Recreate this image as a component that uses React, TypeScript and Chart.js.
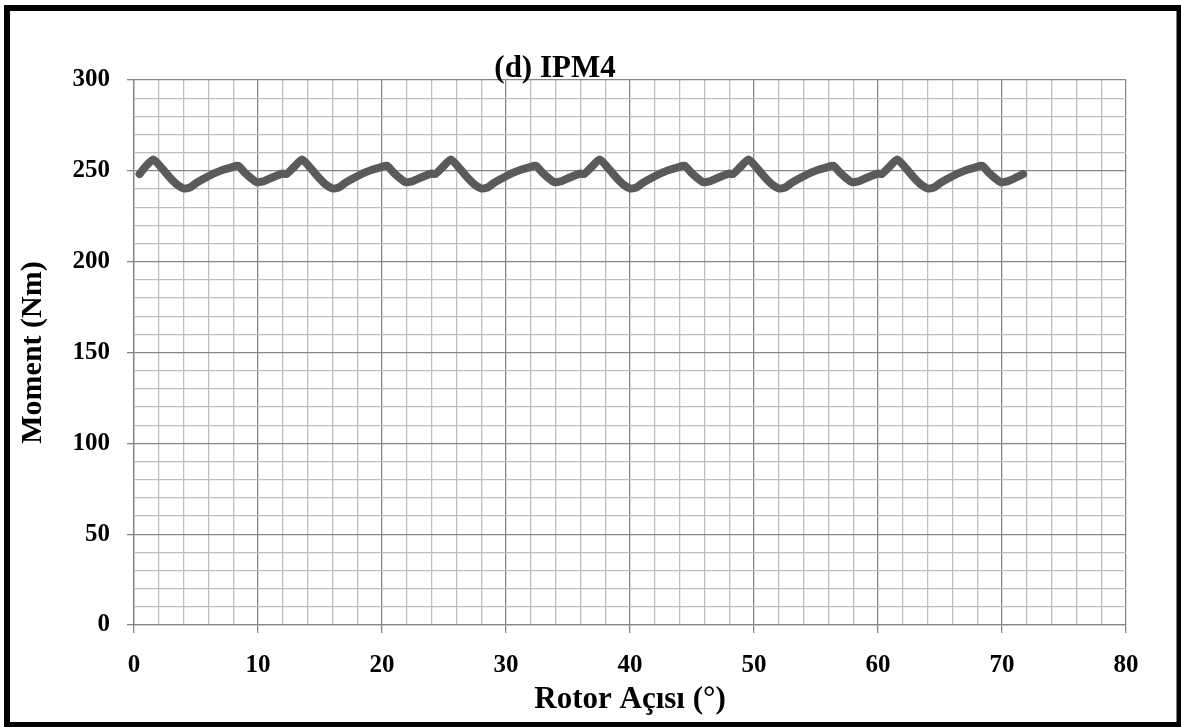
import React, { useEffect, useRef } from "react";
import { Chart, registerables } from "chart.js";

Chart.register(...registerables);

const chartTitle = "(d) IPM4";
const xAxisTitle = "Rotor Açısı (°)";
const yAxisTitle = "Moment (Nm)";

const xMajorTicks = [0, 10, 20, 30, 40, 50, 60, 70, 80];
const yMajorTicks = [0, 50, 100, 150, 200, 250, 300];

const rotorAngle = [
  0.45, 0.9, 1.55, 2.2, 2.8, 3.4, 4.0, 4.5, 5.0, 5.5, 6.0, 6.6, 7.2, 7.8, 8.4, 9.0, 9.4, 9.9, 10.4, 11.0, 11.6, 12.0,
  12.3, 12.9, 13.55, 14.2, 14.8, 15.4, 16.0, 16.5, 17.0, 17.5, 18.0, 18.6, 19.2, 19.8, 20.4, 21.0, 21.4, 21.9, 22.4, 23.0, 23.6, 24.0,
  24.3, 24.9, 25.55, 26.2, 26.8, 27.4, 28.0, 28.5, 29.0, 29.5, 30.0, 30.6, 31.2, 31.8, 32.4, 33.0, 33.4, 33.9, 34.4, 35.0, 35.6, 36.0,
  36.3, 36.9, 37.55, 38.2, 38.8, 39.4, 40.0, 40.5, 41.0, 41.5, 42.0, 42.6, 43.2, 43.8, 44.4, 45.0, 45.4, 45.9, 46.4, 47.0, 47.6, 48.0,
  48.3, 48.9, 49.55, 50.2, 50.8, 51.4, 52.0, 52.5, 53.0, 53.5, 54.0, 54.6, 55.2, 55.8, 56.4, 57.0, 57.4, 57.9, 58.4, 59.0, 59.6, 60.0,
  60.3, 60.9, 61.55, 62.2, 62.8, 63.4, 64.0, 64.5, 65.0, 65.5, 66.0, 66.6, 67.2, 67.8, 68.4, 69.0, 69.4, 69.9, 70.4, 71.0, 71.7,
];

const moment = [
  248.2, 252.1, 256.2, 251.8, 247.0, 242.8, 240.3, 240.8, 243.2, 245.2, 247.0, 249.0, 250.6, 251.8, 252.8, 248.6, 246.2, 243.8, 244.2, 245.9, 247.6, 248.5,
  248.2, 252.1, 256.2, 251.8, 247.0, 242.8, 240.3, 240.8, 243.2, 245.2, 247.0, 249.0, 250.6, 251.8, 252.8, 248.6, 246.2, 243.8, 244.2, 245.9, 247.6, 248.5,
  248.2, 252.1, 256.2, 251.8, 247.0, 242.8, 240.3, 240.8, 243.2, 245.2, 247.0, 249.0, 250.6, 251.8, 252.8, 248.6, 246.2, 243.8, 244.2, 245.9, 247.6, 248.5,
  248.2, 252.1, 256.2, 251.8, 247.0, 242.8, 240.3, 240.8, 243.2, 245.2, 247.0, 249.0, 250.6, 251.8, 252.8, 248.6, 246.2, 243.8, 244.2, 245.9, 247.6, 248.5,
  248.2, 252.1, 256.2, 251.8, 247.0, 242.8, 240.3, 240.8, 243.2, 245.2, 247.0, 249.0, 250.6, 251.8, 252.8, 248.6, 246.2, 243.8, 244.2, 245.9, 247.6, 248.5,
  248.2, 252.1, 256.2, 251.8, 247.0, 242.8, 240.3, 240.8, 243.2, 245.2, 247.0, 249.0, 250.6, 251.8, 252.8, 248.6, 246.2, 243.8, 244.2, 245.9, 248.2,
];

const FONT = "'Liberation Serif', 'Times New Roman', serif";
const MAJOR_GRID = "#868686";
const MINOR_GRID = "#bebebe";

const frameAndTitle = {
  id: "frameAndTitle",
  afterDraw(chart: any) {
    const ctx = chart.ctx;
    ctx.save();
    ctx.fillStyle = "#000";
    ctx.font = `bold 31px ${FONT}`;
    ctx.textAlign = "center";
    ctx.textBaseline = "alphabetic";
    ctx.fillText(chartTitle, 555, 77);
    ctx.strokeStyle = "#000";
    ctx.lineWidth = 6;
    ctx.strokeRect(7, 8, 1172.5, 717);
    ctx.restore();
  },
};

export default function App() {
  const canvasRef = useRef<HTMLCanvasElement | null>(null);

  useEffect(() => {
    const canvas = canvasRef.current;
    if (!canvas) return;
    const points = rotorAngle.map((x, i) => ({ x, y: moment[i] }));
    const chart = new Chart(canvas, {
      type: "line",
      data: {
        datasets: [
          {
            label: "IPM4",
            data: points,
            borderColor: "#5a5a5a",
            backgroundColor: "#5a5a5a",
            borderWidth: 8,
            pointRadius: 0,
            borderCapStyle: "round",
            borderJoinStyle: "round",
            tension: 0.2,
            fill: false,
          },
        ],
      },
      options: {
        responsive: false,
        animation: false,
        layout: { padding: { top: 80, right: 55, left: 0, bottom: 0 } },
        plugins: {
          legend: { display: false },
          tooltip: { enabled: false },
          title: { display: false },
        },
        scales: {
          x: {
            type: "linear",
            min: 0,
            max: 80,
            afterFit(scale: any) {
              scale.height = 102;
            },
            ticks: {
              stepSize: 2,
              autoSkip: false,
              maxRotation: 0,
              minRotation: 0,
              padding: 18,
              color: "#000",
              font: { family: FONT, size: 25, weight: "bold" },
              callback: (v: any) => (xMajorTicks.includes(Number(v)) ? String(v) : ""),
            },
            grid: {
              color: (c: any) => (c.tick && xMajorTicks.includes(c.tick.value) ? MAJOR_GRID : MINOR_GRID),
              tickColor: (c: any) => (c.tick && xMajorTicks.includes(c.tick.value) ? MAJOR_GRID : "rgba(0,0,0,0)"),
              tickLength: 8,
              lineWidth: 1.3,
            },
            border: { color: MAJOR_GRID, width: 1.3 },
            title: {
              display: true,
              text: xAxisTitle,
              color: "#000",
              font: { family: FONT, size: 31, weight: "bold" },
              padding: { top: 0, bottom: 8 },
            },
          },
          y: {
            type: "linear",
            min: 0,
            max: 300,
            afterFit(scale: any) {
              scale.width = 134;
            },
            ticks: {
              stepSize: 10,
              autoSkip: false,
              padding: 17,
              color: "#000",
              font: { family: FONT, size: 25, weight: "bold" },
              callback: (v: any) => (yMajorTicks.includes(Number(v)) ? String(v) : ""),
            },
            grid: {
              color: (c: any) => (c.tick && yMajorTicks.includes(c.tick.value) ? MAJOR_GRID : MINOR_GRID),
              tickColor: (c: any) => (c.tick && yMajorTicks.includes(c.tick.value) ? MAJOR_GRID : "rgba(0,0,0,0)"),
              tickLength: 7,
              lineWidth: 1.3,
            },
            border: { color: MAJOR_GRID, width: 1.3 },
            title: {
              display: true,
              text: yAxisTitle,
              color: "#000",
              font: { family: FONT, size: 30, weight: "bold" },
              padding: { top: 15, bottom: 0 },
            },
          },
        },
      },
      plugins: [frameAndTitle],
    });
    return () => chart.destroy();
  }, []);

  return (
    <div style={{ position: "absolute", left: 0, top: 0, width: 1181, height: 727, background: "#fff" }}>
      <canvas ref={canvasRef} width={1181} height={727} style={{ display: "block" }} />
    </div>
  );
}
